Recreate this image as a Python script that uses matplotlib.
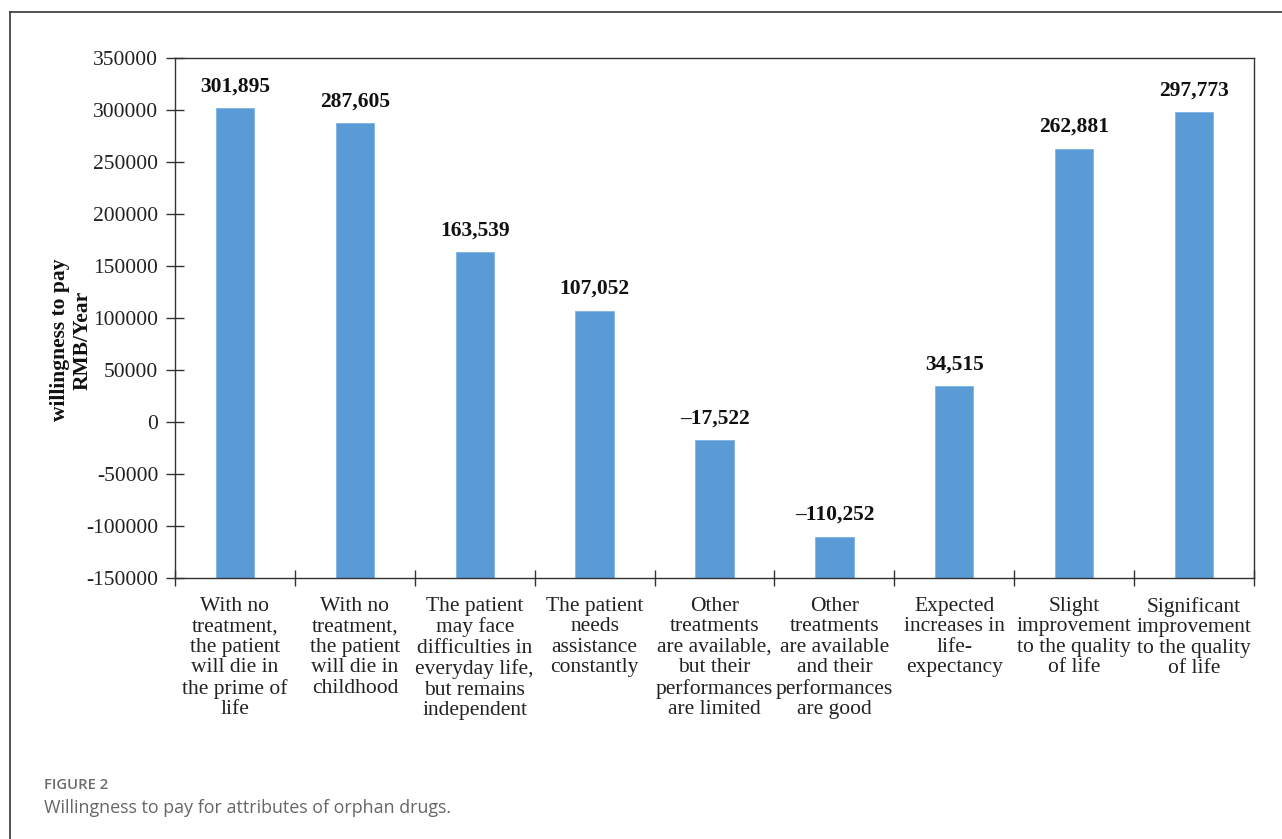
import matplotlib
matplotlib.use("Agg")
import matplotlib.pyplot as plt
from matplotlib.lines import Line2D
from matplotlib.ticker import FixedLocator, FuncFormatter

plt.rcParams['axes.unicode_minus'] = False

categories = [
    "With no\ntreatment,\nthe patient\nwill die in\nthe prime of\nlife",
    "With no\ntreatment,\nthe patient\nwill die in\nchildhood",
    "The patient\nmay face\ndifficulties in\neveryday life,\nbut remains\nindependent",
    "The patient\nneeds\nassistance\nconstantly",
    "Other\ntreatments\nare available,\nbut their\nperformances\nare limited",
    "Other\ntreatments\nare available\nand their\nperformances\nare good",
    "Expected\nincreases in\nlife-\nexpectancy",
    "Slight\nimprovement\nto the quality\nof life",
    "Significant\nimprovement\nto the quality\nof life",
]
values = [301895, 287605, 163539, 107052, -17522, -110252, 34515, 262881, 297773]
value_labels = ["301,895", "287,605", "163,539", "107,052", "\u201317,522",
                "\u2013110,252", "34,515", "262,881", "297,773"]
yticks = [-150000, -100000, -50000, 0, 50000, 100000, 150000, 200000, 250000, 300000, 350000]
ylabel = "willingness to pay\nRMB/Year"
caption_head = "FIGURE 2"
caption_text = "Willingness to pay for attributes of orphan drugs."

W, H = 1282, 839
fig = plt.figure(figsize=(W / 100, H / 100), dpi=100)
fig.patch.set_facecolor("white")

left, right, top, bottom = 175, 1254, 58, 578
ax = fig.add_axes([left / W, 1 - bottom / H, (right - left) / W, (bottom - top) / H])

serif = ["Liberation Serif", "DejaVu Serif"]
ymin, ymax = -150000, 350000
x = list(range(len(values)))
ax.bar(x, [v - ymin for v in values], bottom=ymin, width=0.32,
       color="#5B9BD5", edgecolor="#7DB3E6", linewidth=0.6, zorder=2)

for xi, v, lab in zip(x, values, value_labels):
    ax.annotate(lab, (xi, v), xytext=(0, 12), textcoords="offset points",
                ha="center", va="baseline", fontsize=15.5, fontweight="bold",
                family=serif, color="#111111")

ax.set_xlim(-0.5, len(values) - 0.5)
ax.set_ylim(ymin, ymax)
ax.yaxis.set_major_locator(FixedLocator(yticks))
ax.yaxis.set_major_formatter(FuncFormatter(lambda v, p: f"{int(v)}"))

ax.xaxis.set_major_locator(FixedLocator([i - 0.5 for i in range(len(values) + 1)]))
ax.xaxis.set_major_formatter(FuncFormatter(lambda v, p: ""))
ax.xaxis.set_minor_locator(FixedLocator(x))
ax.set_xticklabels(categories, minor=True)

spine_color = "#333333"
for s in ax.spines.values():
    s.set_color(spine_color)
    s.set_linewidth(1.0)

ax.tick_params(axis="y", which="major", direction="inout", length=13, width=1.0,
               color=spine_color, pad=5.5, labelsize=15.5, labelcolor="#222222")
ax.tick_params(axis="x", which="major", direction="inout", length=11.5, width=1.0,
               color=spine_color)
ax.tick_params(axis="x", which="minor", length=0, pad=13.5, labelsize=15.5,
               labelcolor="#222222")
for t in ax.get_yticklabels() + ax.get_xticklabels(minor=True):
    t.set_family(serif)
for t in ax.get_xticklabels(minor=True):
    t.set_ha("center")
    t.set_va("top")
    t.set_multialignment("center")
    t.set_linespacing(1.11)

fig.text(71 / W, 1 - 340 / H, ylabel, rotation=90, ha="center", va="center",
         fontsize=15.5, fontweight="bold", family=serif, color="#111111",
         multialignment="center", linespacing=1.2)

# outer frame (left and top edges)
fig.add_artist(Line2D([10 / W, 10 / W], [0, 1 - 12 / H], transform=fig.transFigure,
                      color="#444444", linewidth=1.3))
fig.add_artist(Line2D([10 / W, 1], [1 - 12 / H, 1 - 12 / H], transform=fig.transFigure,
                      color="#444444", linewidth=1.3))

sans = ["Open Sans", "DejaVu Sans"]
fig.text(44 / W, 1 - 785 / H, caption_head, ha="left", va="center", fontsize=10.7,
         fontweight="semibold", family=sans, color="#6d6d6d")
fig.text(44 / W, 1 - 808 / H, caption_text, ha="left", va="center", fontsize=12.9,
         family=sans, color="#666666")

fig.savefig("out.png", dpi=100, facecolor="white")
